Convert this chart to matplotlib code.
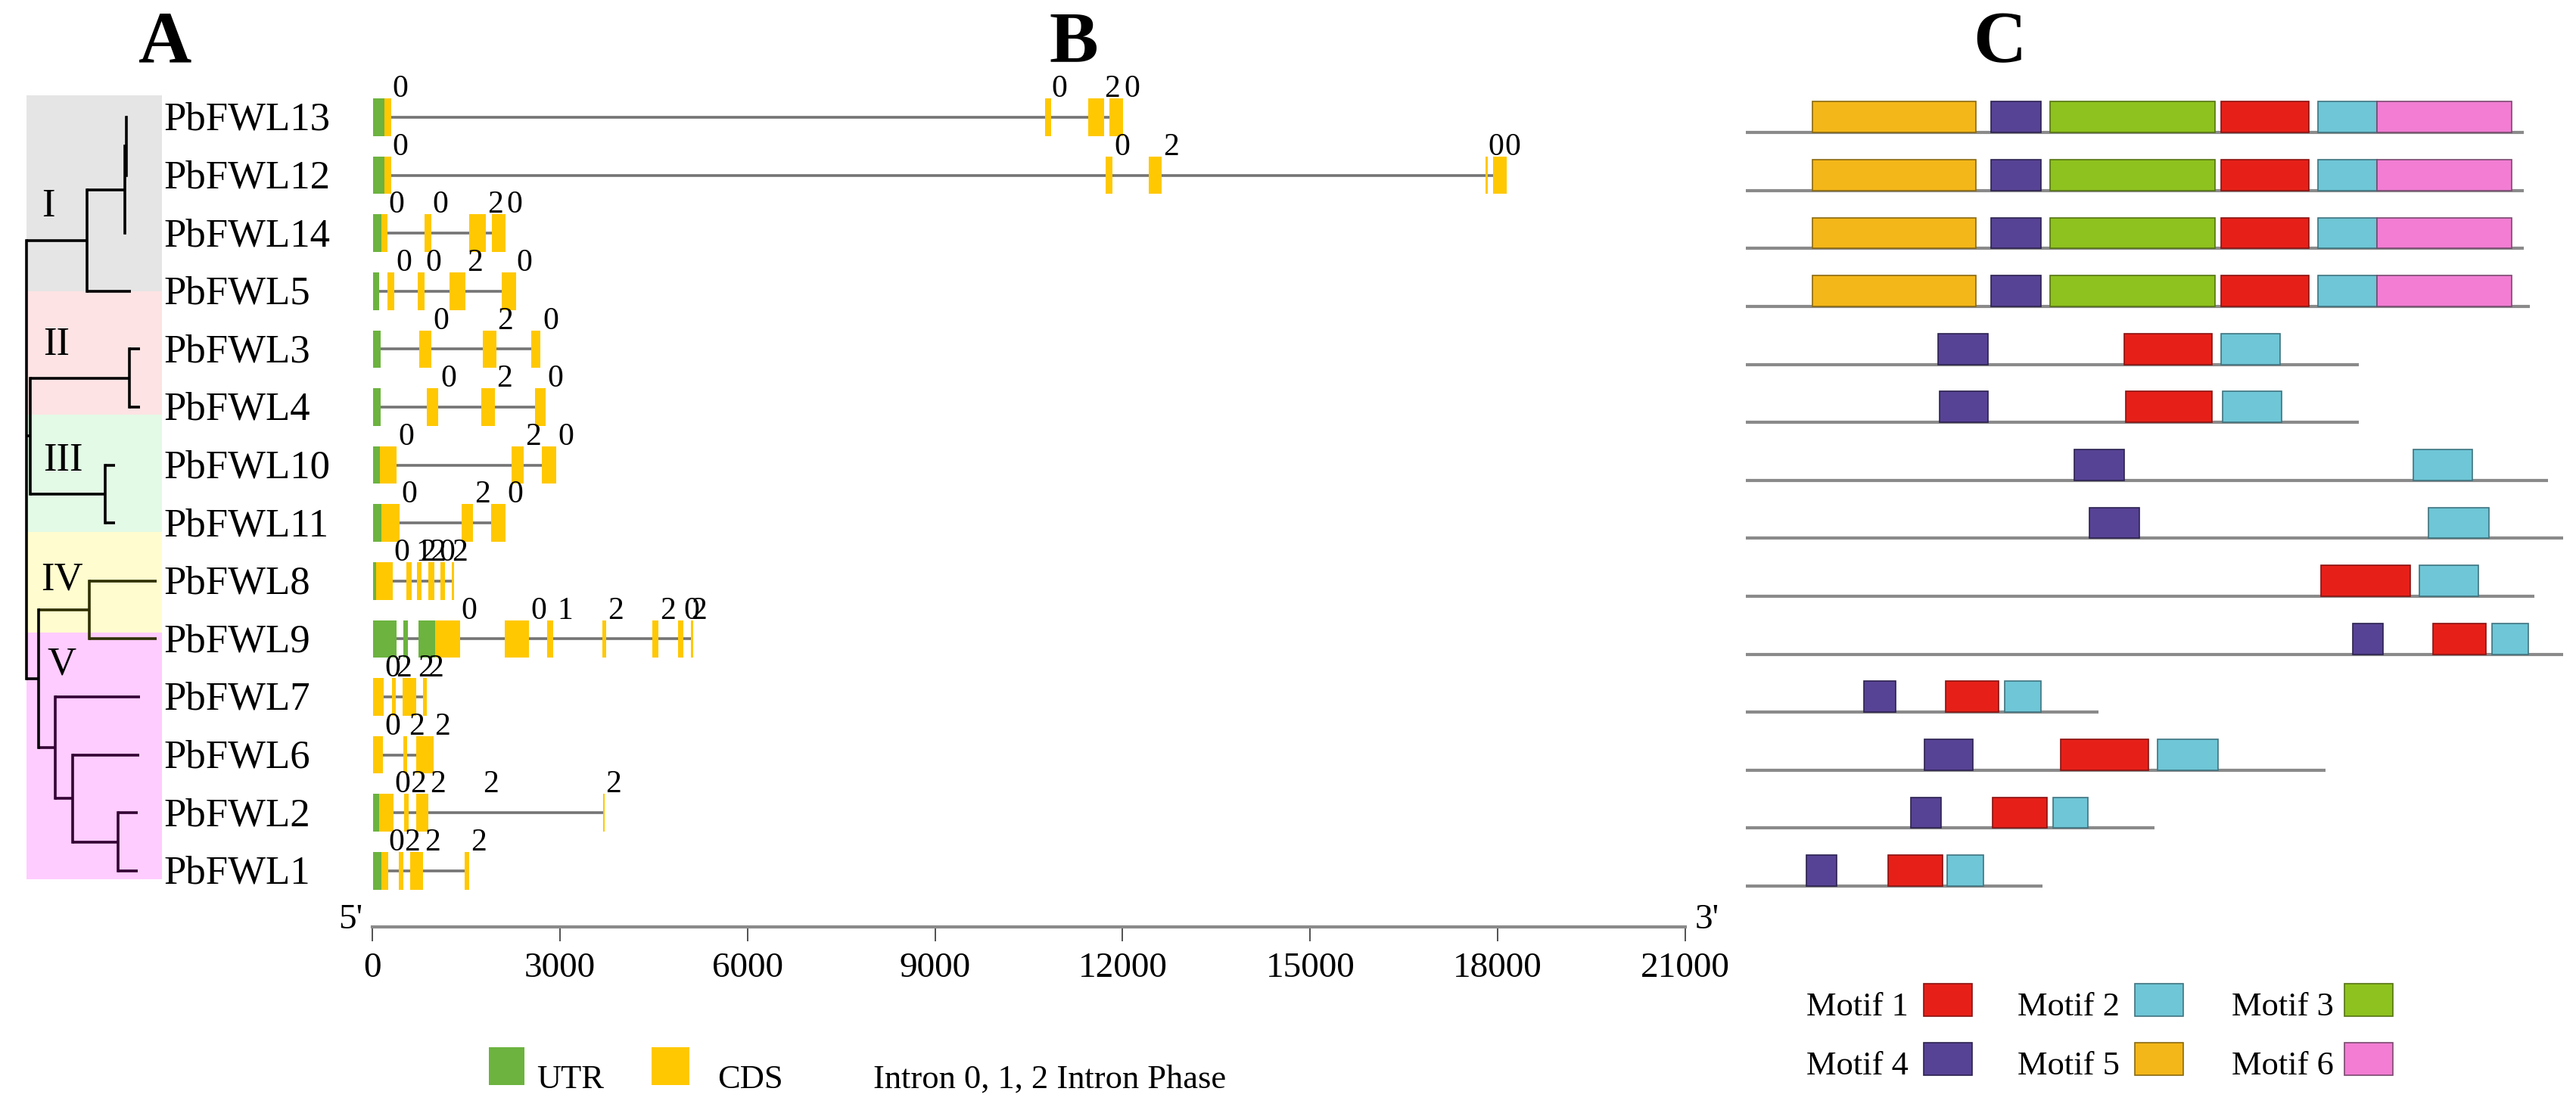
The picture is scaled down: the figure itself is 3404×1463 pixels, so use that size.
import matplotlib
matplotlib.use('Agg')
import matplotlib.pyplot as plt
from matplotlib.patches import Rectangle

plt.rcParams['font.family'] = ['Liberation Serif', 'DejaVu Serif']

W, H = 3405, 1463
ROW0, ROWH = 155, 76.6   # pixel centre of first row, pixels per row

genes = ['PbFWL13', 'PbFWL12', 'PbFWL14', 'PbFWL5', 'PbFWL3', 'PbFWL4', 'PbFWL10',
         'PbFWL11', 'PbFWL8', 'PbFWL9', 'PbFWL7', 'PbFWL6', 'PbFWL2', 'PbFWL1']

# ---- A: tree (depth 0 = root, 1 = deepest tip) ----
tip_depth = {'PbFWL13': 0.773, 'PbFWL12': 0.77, 'PbFWL14': 0.76, 'PbFWL5': 0.80,
             'PbFWL3': 0.87, 'PbFWL4': 0.87, 'PbFWL10': 0.68, 'PbFWL11': 0.68,
             'PbFWL8': 1.0, 'PbFWL9': 1.0, 'PbFWL7': 0.87, 'PbFWL6': 0.866,
             'PbFWL2': 0.855, 'PbFWL1': 0.855}
nodes = {
    'root': (0.0, ['I', 'II_III', 'IV_V']),
    'I': (0.465, ['a', 'PbFWL5']),
    'a': (0.756, ['b', 'PbFWL14']),
    'b': (0.767, ['PbFWL13', 'PbFWL12']),
    'II_III': (0.03, ['II', 'III']),
    'II': (0.79, ['PbFWL3', 'PbFWL4']),
    'III': (0.605, ['PbFWL10', 'PbFWL11']),
    'IV_V': (0.093, ['IV', 'V']),
    'IV': (0.483, ['PbFWL8', 'PbFWL9']),
    'V': (0.22, ['PbFWL7', 'c']),
    'c': (0.355, ['PbFWL6', 'd']),
    'd': (0.703, ['PbFWL2', 'PbFWL1']),
}
clades = ['I', 'II', 'III', 'IV', 'V']
clade_rows = [(-0.38, 3.0), (3.0, 5.13), (5.13, 7.15), (7.15, 8.89), (8.89, 13.15)]
clade_bg = ['#e5e5e5', '#fde3e3', '#e3fae6', '#fffdcf', '#ffccff']
clade_text_xy = [(0.17, 1.54), (0.23, 3.93), (0.28, 5.93), (0.27, 7.98), (0.27, 9.44)]
clade_line = {'IV': '#2e2e00', 'V': '#330033'}

# ---- B: gene structures (bp) ----
utr = {'PbFWL13': [(10, 190)], 'PbFWL12': [(10, 195)], 'PbFWL14': [(10, 145)],
       'PbFWL5': [(10, 105)], 'PbFWL3': [(10, 130)], 'PbFWL4': [(10, 130)],
       'PbFWL10': [(10, 120)], 'PbFWL11': [(10, 145)], 'PbFWL8': [(10, 60)],
       'PbFWL9': [(10, 390), (500, 570), (740, 1005)], 'PbFWL7': [], 'PbFWL6': [],
       'PbFWL2': [(10, 105)], 'PbFWL1': [(10, 145)]}
cds = {'PbFWL13': [(190, 300), (10760, 10860), (11450, 11700), (11790, 12010)],
       'PbFWL12': [(195, 300), (11730, 11840), (12420, 12630), (17800, 17845), (17920, 18140)],
       'PbFWL14': [(145, 240), (835, 945), (1550, 1815), (1915, 2135)],
       'PbFWL5': [(240, 350), (725, 835), (1235, 1490), (2070, 2300)],
       'PbFWL3': [(750, 945), (1765, 1985), (2540, 2690)],
       'PbFWL4': [(875, 1055), (1745, 1960), (2600, 2770)],
       'PbFWL10': [(120, 390), (2225, 2420), (2710, 2940)],
       'PbFWL11': [(145, 435), (1430, 1610), (1900, 2135)],
       'PbFWL8': [(60, 330), (545, 630), (715, 785), (895, 990), (1090, 1160), (1270, 1310)],
       'PbFWL9': [(1005, 1405), (2120, 2505), (2800, 2895), (3680, 3740), (4480, 4575),
                  (4890, 4975), (5095, 5135)],
       'PbFWL7': [(10, 180), (315, 375), (485, 700), (810, 870)],
       'PbFWL6': [(10, 170), (495, 555), (700, 980)],
       'PbFWL2': [(105, 340), (510, 580), (700, 900), (3695, 3720)],
       'PbFWL1': [(145, 255), (425, 500), (605, 815), (1480, 1550)]}
intron = {'PbFWL13': (300, 11790), 'PbFWL12': (300, 17920), 'PbFWL14': (240, 1915),
          'PbFWL5': (105, 2070), 'PbFWL3': (130, 2540), 'PbFWL4': (130, 2600),
          'PbFWL10': (390, 2710), 'PbFWL11': (435, 1900), 'PbFWL8': (330, 1270),
          'PbFWL9': (390, 5095), 'PbFWL7': (180, 810), 'PbFWL6': (170, 700),
          'PbFWL2': (340, 3695), 'PbFWL1': (255, 1480)}
phase = {'PbFWL13': [(320, '0'), (10860, '0'), (11710, '2'), (12020, '0')],
         'PbFWL12': [(320, '0'), (11865, '0'), (12650, '2'), (17850, '0'), (18110, '0')],
         'PbFWL14': [(255, '0'), (955, '0'), (1840, '2'), (2150, '0')],
         'PbFWL5': [(375, '0'), (850, '0'), (1510, '2'), (2300, '0')],
         'PbFWL3': [(970, '0'), (2000, '2'), (2725, '0')],
         'PbFWL4': [(1090, '0'), (1985, '2'), (2795, '0')],
         'PbFWL10': [(420, '0'), (2445, '2'), (2970, '0')],
         'PbFWL11': [(470, '0'), (1630, '2'), (2165, '0')],
         'PbFWL8': [(340, '0'), (700, '1'), (765, '2'), (920, '2'), (1065, '0'), (1270, '2')],
         'PbFWL9': [(1415, '0'), (2540, '0'), (2955, '1'), (3765, '2'), (4600, '2'),
                    (4975, '0'), (5100, '2')],
         'PbFWL7': [(195, '0'), (375, '2'), (725, '2'), (885, '2')],
         'PbFWL6': [(195, '0'), (580, '2'), (990, '2')],
         'PbFWL2': [(360, '0'), (605, '2'), (920, '2'), (1765, '2'), (3730, '2')],
         'PbFWL1': [(255, '0'), (510, '2'), (835, '2'), (1575, '2')]}
scale_ticks = [0, 3000, 6000, 9000, 12000, 15000, 18000, 21000]

# ---- C: conserved motifs (aa) ----
prot_len = {'PbFWL13': 514, 'PbFWL12': 514, 'PbFWL14': 514, 'PbFWL5': 518,
            'PbFWL3': 405, 'PbFWL4': 405, 'PbFWL10': 530, 'PbFWL11': 540,
            'PbFWL8': 521, 'PbFWL9': 540, 'PbFWL7': 233, 'PbFWL6': 383,
            'PbFWL2': 270, 'PbFWL1': 196}
big6 = [(5, 44, 152), (4, 162, 195), (3, 201, 310), (1, 314, 372), (2, 378, 417), (6, 417, 506)]
motifs = {'PbFWL13': big6, 'PbFWL12': big6, 'PbFWL14': big6, 'PbFWL5': big6,
          'PbFWL3': [(4, 127, 160), (1, 250, 308), (2, 314, 353)],
          'PbFWL4': [(4, 128, 160), (1, 251, 308), (2, 315, 354)],
          'PbFWL10': [(4, 217, 250), (2, 441, 480)],
          'PbFWL11': [(4, 227, 260), (2, 451, 491)],
          'PbFWL8': [(1, 380, 439), (2, 445, 484)],
          'PbFWL9': [(4, 401, 421), (1, 454, 489), (2, 493, 517)],
          'PbFWL7': [(4, 78, 99), (1, 132, 167), (2, 171, 195)],
          'PbFWL6': [(4, 118, 150), (1, 208, 266), (2, 272, 312)],
          'PbFWL2': [(4, 109, 129), (1, 163, 199), (2, 203, 226)],
          'PbFWL1': [(4, 40, 60), (1, 94, 130), (2, 133, 157)]}
motif_names = [1, 2, 3, 4, 5, 6]
motif_color = {1: '#e62019', 2: '#6ec6d6', 3: '#8ec21e', 4: '#574395', 5: '#f4b719', 6: '#f27dd3'}
motif_edge = {1: '#8a1210', 2: '#3f7480', 3: '#557412', 4: '#2c2250', 5: '#8a6a10', 6: '#7a4a70'}

UTR_C = '#6cb33f'
CDS_C = '#ffc800'

fig = plt.figure(figsize=(W / 100, H / 100), dpi=100)


def px_axes(x0, x1, y0, y1):
    ax = fig.add_axes([x0 / W, 1 - y1 / H, (x1 - x0) / W, (y1 - y0) / H])
    ax.set_ylim((y1 - ROW0) / ROWH, (y0 - ROW0) / ROWH)
    return ax


# ---------- A ----------
axA = px_axes(35, 207, 0, H)
axA.set_xlim(0, 1)
axA.axis('off')
for (r0, r1), col in zip(clade_rows, clade_bg):
    axA.add_patch(Rectangle((0, r0), 1.04, r1 - r0, fc=col, ec='none', clip_on=False, zorder=0))
for name, (x, y) in zip(clades, clade_text_xy):
    axA.text(x, y, name, fontsize=38, ha='center', va='center', zorder=3)


def draw(node, color):
    color = clade_line.get(node, color)
    if node in tip_depth:
        return tip_depth[node], genes.index(node)
    depth, kids = nodes[node]
    ys = []
    for k in kids:
        kx, ky = draw(k, color)
        axA.plot([depth, kx], [ky, ky], color=clade_line.get(k, color), lw=2.6,
                 solid_capstyle='butt', clip_on=False, zorder=2)
        ys.append(ky)
    axA.plot([depth, depth], [min(ys), max(ys)], color=color, lw=2.6, clip_on=False, zorder=2)
    return depth, (ys[0] + ys[-1]) / 2


draw('root', 'black')
for i, g in enumerate(genes):
    axA.text(1.052, i + 0.22, g, fontsize=38, ha='left', va='baseline')

# ---------- B ----------
axB = px_axes(492, 2227, 0, 1225)
axB.set_xlim(0, 21000)
for s in ['top', 'left', 'right']:
    axB.spines[s].set_visible(False)
axB.spines['bottom'].set_color('#8a8a8a')
axB.spines['bottom'].set_linewidth(3)
axB.set_yticks([])
axB.set_xticks(scale_ticks)
axB.set_xticklabels([str(t) for t in scale_ticks])
axB.tick_params(axis='x', direction='out', length=14, width=1.2, color='#333333',
                labelsize=34, pad=10)
for i, g in enumerate(genes):
    s, e = intron[g]
    axB.plot([s, e], [i, i], color='#747474', lw=2.6, solid_capstyle='butt', zorder=1)
    for a, b in utr[g]:
        axB.add_patch(Rectangle((a, i - 0.325), b - a, 0.65, fc=UTR_C, ec='none', zorder=2))
    for a, b in cds[g]:
        axB.add_patch(Rectangle((a, i - 0.325), b - a, 0.65, fc=CDS_C, ec='none', zorder=2))
    for x, t in phase[g]:
        axB.text(x, i - 0.35, t, fontsize=30, ha='left', va='baseline', zorder=3)
axB.text(-150, 13.85, "5'", fontsize=34, ha='right', va='center')
axB.text(21150, 13.85, "3'", fontsize=34, ha='left', va='center')

# ---------- C ----------
axC = px_axes(2280, 3405, 0, H)
axC.set_xlim((2280 - 2307) / 2, (3405 - 2307) / 2)
axC.axis('off')
for i, g in enumerate(genes):
    axC.plot([0, prot_len[g]], [i + 0.265, i + 0.265], color='#8a8a8a', lw=3,
             solid_capstyle='butt', zorder=1)
    for m, a, b in motifs[g]:
        axC.add_patch(Rectangle((a, i - 0.27), b - a, 0.535, fc=motif_color[m],
                                ec=motif_edge[m], lw=1.2, zorder=2))

# ---------- letters and legends (figure pixels) ----------
ov = fig.add_axes([0, 0, 1, 1])
ov.set_xlim(0, W)
ov.set_ylim(H, 0)
ov.axis('off')
for letter, x in zip(['A', 'B', 'C'], [218, 1419, 2642]):
    ov.text(x, 82, letter, fontsize=70, fontweight='bold', ha='center', va='baseline')

ov.add_patch(Rectangle((646, 1384), 47, 50, fc=UTR_C, ec='none'))
ov.text(709, 1438, 'UTR', fontsize=32, va='baseline')
ov.add_patch(Rectangle((861, 1384), 50, 50, fc=CDS_C, ec='none'))
ov.text(948, 1438, 'CDS', fontsize=32, va='baseline')
ov.text(1154, 1438, 'Intron 0, 1, 2 Intron Phase', fontsize=32, va='baseline')

for k, m in enumerate(motif_names):
    col, row = k % 3, k // 3
    tx = [2387, 2666, 2949][col]
    bx = [2542, 2821, 3098][col]
    top = [1300, 1378][row]
    ov.text(tx, top + 42, 'Motif %d' % m, fontsize=32, va='baseline')
    ov.add_patch(Rectangle((bx, top), 64, 43, fc=motif_color[m], ec=motif_edge[m], lw=1.2))

fig.savefig('out.png', dpi=100)
